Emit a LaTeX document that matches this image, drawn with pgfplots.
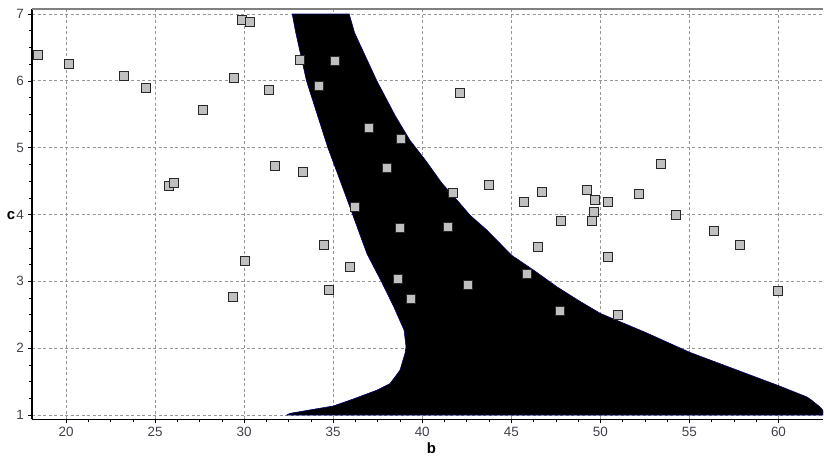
\documentclass[border=0pt]{standalone}
\usepackage{fontspec}
\setmainfont{Liberation Sans}
\usepackage{pgfplots}
\pgfplotsset{compat=1.18}
\definecolor{lblgray}{RGB}{64,64,74}
\definecolor{gridgray}{RGB}{150,150,150}
\definecolor{ptfill}{RGB}{192,192,192}
\definecolor{ptedge}{RGB}{40,40,40}
\definecolor{edgeblue}{RGB}{0,0,110}
\begin{document}
\begin{tikzpicture}
\begin{axis}[
  name=ax, at={(0,0)}, anchor=south west,
  scale only axis, width=791bp, height=410.3bp,
  xmin=18.09, xmax=62.5, ymin=0.936, ymax=7.075,
  xtick={20,25,...,60}, ytick={1,2,...,7},
  minor x tick num=3, minor y tick num=3,
  axis x line*=bottom, axis y line*=left,
  x axis line style={-, line width=1.6bp, black},
  y axis line style={-, line width=1.8bp, black},
  tick align=outside,
  major tick length=4bp, minor tick length=3bp,
  tick style={black, line width=0.6bp},
  grid=major,
  major grid style={gridgray, line width=0.8bp, dash pattern=on 3bp off 2.5bp},
  /pgf/number format/assume math mode=true,
  ticklabel style={font=\fontsize{13.5}{15}\selectfont, text=lblgray},
  xticklabel style={yshift=-0.5bp},
  yticklabel style={xshift=-0.5bp},
  every axis x label/.style={at={(axis description cs:0.5,0)}, anchor=base, yshift=-34bp, xshift=4bp},
  every axis y label/.style={at={(axis description cs:0,0.497)}, anchor=center, xshift=-21bp},
  label style={font=\bfseries\fontsize{15}{17}\selectfont, text=black},
  xlabel={b}, ylabel={c},
  clip=true,
]
\addplot[fill=black, draw=edgeblue, line width=0.6bp] coordinates {
 (32.7,7.0) (32.9,6.72) (33.5,6.0) (34.1,5.5) (34.7,5.0) (35.4,4.5) (36.05,4.03)
 (36.5,3.7) (36.9,3.41) (37.7,3.0) (38.4,2.62) (38.98,2.27) (39.09,2.02) (39.03,1.92)
 (38.75,1.67) (38.19,1.47) (37.44,1.37) (36.13,1.24) (35.01,1.135)
 (33.89,1.085) (32.58,1.025) (32.4,1.0)
 (62.5,1.0) (62.5,1.07) (62.33,1.12) (61.87,1.22) (61.6,1.27) (60,1.44) (57.5,1.69)
 (55,1.94) (52.5,2.24) (50,2.52) (48.86,2.70) (47.55,2.92) (46.24,3.17) (45.02,3.39)
 (43.62,3.77) (42.68,3.99) (41.94,4.22) (41.10,4.47) (40.16,4.82) (39.31,5.11)
 (38.5,5.47) (37.45,6.0) (36.2,6.72) (35.9,7.0)
} -- cycle;
\addplot[only marks, mark=square*, mark size=4.5bp,
  mark options={fill=ptfill, draw=ptedge, line width=1bp}] coordinates {
 (18.40,6.38) (20.17,6.25) (23.27,6.07) (24.47,5.90) (27.69,5.56) (29.45,6.04)
 (29.90,6.91) (30.33,6.88) (31.40,5.87) (31.74,4.73) (25.77,4.43) (26.06,4.47)
 (33.14,6.31) (33.33,4.64) (35.10,6.29) (34.22,5.92) (37.03,5.29) (38.81,5.13)
 (38.04,4.70) (42.12,5.82) (36.23,4.11) (41.75,4.32) (43.77,4.44) (45.73,4.18)
 (46.73,4.33) (38.75,3.80) (41.47,3.82) (34.50,3.55) (35.93,3.21) (34.77,2.87)
 (38.64,3.04) (39.37,2.74) (42.57,2.95) (46.48,3.52) (45.88,3.11) (30.03,3.31)
 (29.36,2.77) (47.72,2.56) (51.01,2.49) (50.41,3.36) (56.38,3.76) (57.83,3.55)
 (59.98,2.86) (53.41,4.75) (49.27,4.36) (49.72,4.21) (50.41,4.18) (52.19,4.30)
 (49.66,4.04) (49.53,3.90) (47.81,3.90) (54.23,3.99)
};
\draw[gray, line width=1.2bp] (rel axis cs:0,1) -- (rel axis cs:1,1);
\end{axis}
\pgfresetboundingbox
\path[use as bounding box] (-32bp,-36.7bp) rectangle (792bp,419.3bp);
\end{tikzpicture}
\end{document}
